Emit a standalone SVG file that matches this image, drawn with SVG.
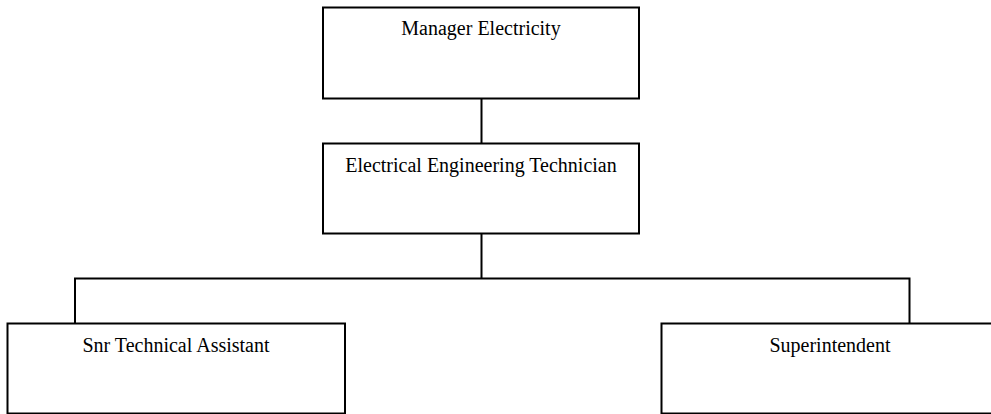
<svg xmlns="http://www.w3.org/2000/svg" width="991" height="414" viewBox="0 0 991 414">
<style>
.box{fill:#fff;stroke:#000;stroke-width:2}
.conn{stroke:#000;stroke-width:2;fill:none}
.lbl{font-family:"Liberation Serif","Times New Roman",serif;font-size:20px;fill:#000;text-anchor:middle}
</style>
<rect width="991" height="414" fill="#fff"/>
<g id="connectors">
<path class="conn" d="M481.5 98.5V143.5M481.5 233.5V278.5M75 278.5H909.5M75 277.5V323.5M909.5 277.5V323.5"/>
</g>
<g id="manager">
<rect class="box" x="323" y="7.5" width="316" height="91"/>
<text class="lbl" x="481" y="35">Manager Electricity</text>
</g>
<g id="technician">
<rect class="box" x="323" y="143.5" width="316" height="90"/>
<text class="lbl" x="481" y="171.5">Electrical Engineering Technician</text>
</g>
<g id="assistant">
<rect class="box" x="7.5" y="323.5" width="337.5" height="90"/>
<text class="lbl" x="176" y="351.5">Snr Technical Assistant</text>
</g>
<g id="superintendent">
<rect class="box" x="661.5" y="323.5" width="337" height="90"/>
<text class="lbl" x="830" y="351.5">Superintendent</text>
</g>
</svg>
